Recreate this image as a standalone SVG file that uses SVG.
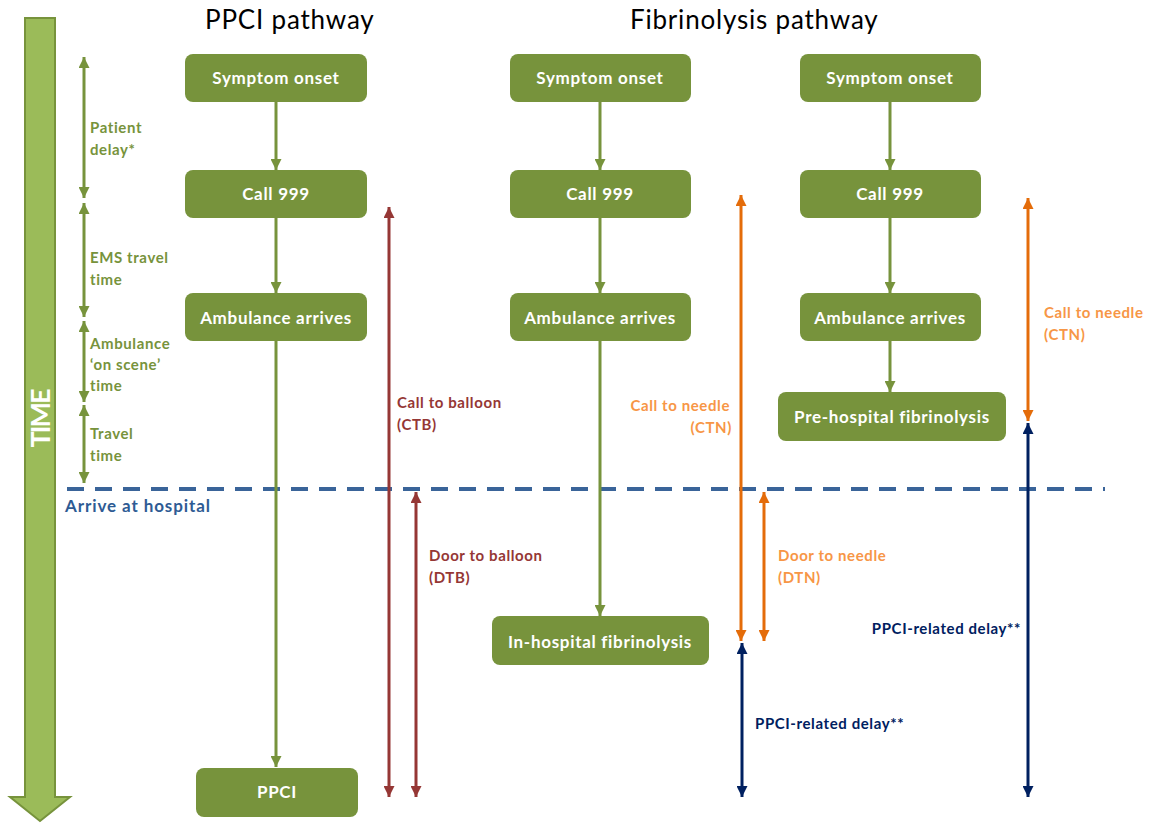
<svg xmlns="http://www.w3.org/2000/svg" width="1157" height="823" viewBox="0 0 1157 823">
<style>
.node{fill:#77933C}
.nt{fill:#FFFFFF;font-family:Lato,"Liberation Sans",sans-serif;font-weight:bold;font-size:17px;letter-spacing:0.7px;text-anchor:middle}
.title{fill:#000;font-family:Lato,"Liberation Sans",sans-serif;font-size:26px;letter-spacing:0.8px}
.lbl{font-family:Lato,"Liberation Sans",sans-serif;font-weight:bold;font-size:15px;letter-spacing:0.6px}
.g{stroke:#77933C;stroke-width:3;fill:none}
.r{stroke:#953735;stroke-width:3;fill:none}
.o{stroke:#E46C0A;stroke-width:3;fill:none}
.n{stroke:#002060;stroke-width:3;fill:none}
</style>
<defs>
<marker id="ag" viewBox="0 0 10 10" refX="10" refY="5" markerUnits="userSpaceOnUse" markerWidth="11" markerHeight="11" orient="auto-start-reverse"><path d="M0,0 L10,5 L0,10 z" fill="#77933C"/></marker>
<marker id="ar" viewBox="0 0 10 10" refX="10" refY="5" markerUnits="userSpaceOnUse" markerWidth="11" markerHeight="11" orient="auto-start-reverse"><path d="M0,0 L10,5 L0,10 z" fill="#953735"/></marker>
<marker id="ao" viewBox="0 0 10 10" refX="10" refY="5" markerUnits="userSpaceOnUse" markerWidth="11" markerHeight="11" orient="auto-start-reverse"><path d="M0,0 L10,5 L0,10 z" fill="#E46C0A"/></marker>
<marker id="an" viewBox="0 0 10 10" refX="10" refY="5" markerUnits="userSpaceOnUse" markerWidth="11" markerHeight="11" orient="auto-start-reverse"><path d="M0,0 L10,5 L0,10 z" fill="#002060"/></marker>
</defs>
<rect width="1157" height="823" fill="#FFFFFF"/>

<g id="time-arrow">
<polygon points="25,18 55,18 55,797 70,797 40,821 10,797 25,797" fill="#9BBB59" stroke="#77933C" stroke-width="2"/>
<text transform="translate(50,418) rotate(-90)" text-anchor="middle" fill="#FFFFFF" font-family="Lato,'Liberation Sans',sans-serif" font-weight="bold" font-size="27" textLength="59">TIME</text>
</g>

<g id="titles">
<text class="title" x="205" y="29">PPCI pathway</text>
<text class="title" x="630" y="29">Fibrinolysis pathway</text>
</g>

<g id="arrive-line">
<line x1="67" y1="489" x2="1105" y2="489" stroke="#3A6499" stroke-width="4" stroke-dasharray="17,11"/>
<text class="lbl" x="65" y="512" fill="#2E5B94" style="font-size:17px;letter-spacing:0.9px">Arrive at hospital</text>
</g>

<g id="connectors">
<line class="g" x1="276" y1="102" x2="276" y2="170" marker-end="url(#ag)"/>
<line class="g" x1="276" y1="218" x2="276" y2="293" marker-end="url(#ag)"/>
<line class="g" x1="276" y1="341" x2="276" y2="767" marker-end="url(#ag)"/>
<line class="g" x1="600" y1="102" x2="600" y2="170" marker-end="url(#ag)"/>
<line class="g" x1="600" y1="218" x2="600" y2="293" marker-end="url(#ag)"/>
<line class="g" x1="600" y1="341" x2="600" y2="616" marker-end="url(#ag)"/>
<line class="g" x1="890" y1="102" x2="890" y2="170" marker-end="url(#ag)"/>
<line class="g" x1="890" y1="218" x2="890" y2="293" marker-end="url(#ag)"/>
<line class="g" x1="890" y1="341" x2="890" y2="392" marker-end="url(#ag)"/>

<line class="g" x1="84" y1="57" x2="84" y2="198" marker-start="url(#ag)" marker-end="url(#ag)"/>
<line class="g" x1="84" y1="203" x2="84" y2="317" marker-start="url(#ag)" marker-end="url(#ag)"/>
<line class="g" x1="84" y1="321" x2="84" y2="402" marker-start="url(#ag)" marker-end="url(#ag)"/>
<line class="g" x1="84" y1="405" x2="84" y2="483" marker-start="url(#ag)" marker-end="url(#ag)"/>

<line class="r" x1="389" y1="207" x2="389" y2="797" marker-start="url(#ar)" marker-end="url(#ar)"/>
<line class="r" x1="416" y1="492" x2="416" y2="797" marker-start="url(#ar)" marker-end="url(#ar)"/>

<line class="o" x1="741" y1="195" x2="741" y2="641" marker-start="url(#ao)" marker-end="url(#ao)"/>
<line class="o" x1="764" y1="492" x2="764" y2="641" marker-start="url(#ao)" marker-end="url(#ao)"/>
<line class="o" x1="1028" y1="198" x2="1028" y2="421" marker-start="url(#ao)" marker-end="url(#ao)"/>

<line class="n" x1="742" y1="643" x2="742" y2="797" marker-start="url(#an)" marker-end="url(#an)"/>
<line class="n" x1="1028" y1="423" x2="1028" y2="797" marker-start="url(#an)" marker-end="url(#an)"/>
</g>

<g id="labels">
<g fill="#77933C">
<text class="lbl" x="90" y="133">Patient</text>
<text class="lbl" x="90" y="155">delay*</text>
<text class="lbl" x="90" y="263">EMS travel</text>
<text class="lbl" x="90" y="285">time</text>
<text class="lbl" x="90" y="349">Ambulance</text>
<text class="lbl" x="90" y="370">‘on scene’</text>
<text class="lbl" x="90" y="391">time</text>
<text class="lbl" x="90" y="439">Travel</text>
<text class="lbl" x="90" y="461">time</text>
</g>
<g fill="#953735">
<text class="lbl" x="397" y="408">Call to balloon</text>
<text class="lbl" x="397" y="430">(CTB)</text>
<text class="lbl" x="429" y="561">Door to balloon</text>
<text class="lbl" x="429" y="583">(DTB)</text>
</g>
<g fill="#F79646">
<text class="lbl" x="730" y="411" text-anchor="end">Call to needle</text>
<text class="lbl" x="732" y="433" text-anchor="end">(CTN)</text>
<text class="lbl" x="778" y="561">Door to needle</text>
<text class="lbl" x="778" y="583">(DTN)</text>
<text class="lbl" x="1044" y="318">Call to needle</text>
<text class="lbl" x="1044" y="340">(CTN)</text>
</g>
<g fill="#002060">
<text class="lbl" x="755" y="729">PPCI-related delay**</text>
<text class="lbl" x="1021" y="634" text-anchor="end">PPCI-related delay**</text>
</g>
</g>

<g id="n-ppci-symptom"><rect class="node" x="185" y="54" width="182" height="48" rx="8"/><text class="nt" x="276" y="84">Symptom onset</text></g>
<g id="n-ppci-call"><rect class="node" x="185" y="170" width="182" height="48" rx="8"/><text class="nt" x="276" y="200">Call 999</text></g>
<g id="n-ppci-amb"><rect class="node" x="185" y="293" width="182" height="48" rx="8"/><text class="nt" x="276" y="324">Ambulance arrives</text></g>
<g id="n-ppci"><rect class="node" x="196" y="768" width="162" height="49" rx="8"/><text class="nt" x="277" y="798">PPCI</text></g>

<g id="n-fib1-symptom"><rect class="node" x="510" y="54" width="181" height="48" rx="8"/><text class="nt" x="600" y="84">Symptom onset</text></g>
<g id="n-fib1-call"><rect class="node" x="510" y="170" width="181" height="48" rx="8"/><text class="nt" x="600" y="200">Call 999</text></g>
<g id="n-fib1-amb"><rect class="node" x="510" y="293" width="181" height="48" rx="8"/><text class="nt" x="600" y="324">Ambulance arrives</text></g>
<g id="n-inhosp"><rect class="node" x="492" y="616" width="217" height="49" rx="8"/><text class="nt" x="600" y="648">In-hospital  fibrinolysis</text></g>

<g id="n-fib2-symptom"><rect class="node" x="800" y="54" width="181" height="48" rx="8"/><text class="nt" x="890" y="84">Symptom onset</text></g>
<g id="n-fib2-call"><rect class="node" x="800" y="170" width="181" height="48" rx="8"/><text class="nt" x="890" y="200">Call 999</text></g>
<g id="n-fib2-amb"><rect class="node" x="800" y="293" width="181" height="48" rx="8"/><text class="nt" x="890" y="324">Ambulance arrives</text></g>
<g id="n-prehosp"><rect class="node" x="778" y="392" width="228" height="49" rx="8"/><text class="nt" x="892" y="423">Pre-hospital fibrinolysis</text></g>
</svg>
